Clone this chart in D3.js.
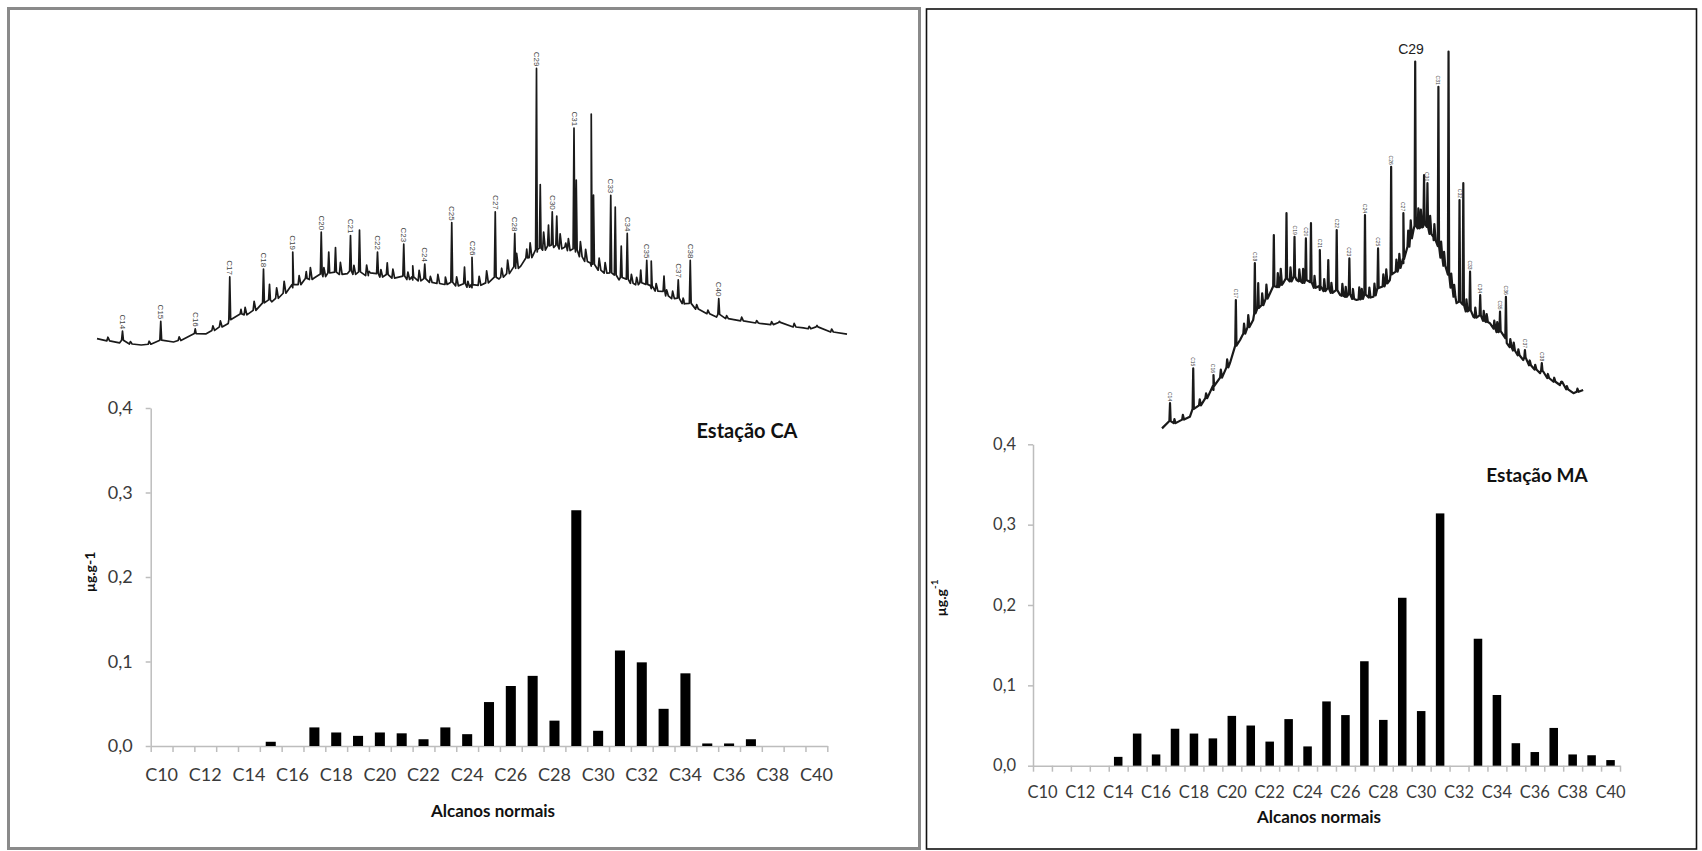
<!DOCTYPE html>
<html>
<head>
<meta charset="utf-8">
<script src="https://cdn.jsdelivr.net/npm/d3@7"></script>
<style>
  html, body { margin: 0; padding: 0; background: #fff; }
  svg { display: block; }
</style>
</head>
<body>
<svg id="fig" width="1702" height="851"></svg>
<script>
// ---- n-alkane concentrations (µg/g) ----
const categories = ["C10","C11","C12","C13","C14","C15","C16","C17","C18","C19","C20",
  "C21","C22","C23","C24","C25","C26","C27","C28","C29","C30",
  "C31","C32","C33","C34","C35","C36","C37","C38","C39","C40"];
const xTickLabels = ["C10","C12","C14","C16","C18","C20","C22","C24","C26","C28",
  "C30","C32","C34","C36","C38","C40"];
const yTicks = [0, 0.1, 0.2, 0.3, 0.4];

const valuesCA = [0, 0, 0, 0, 0, 0.005, 0, 0.022, 0.016, 0.012, 0.016,
  0.015, 0.008, 0.022, 0.014, 0.052, 0.071, 0.083, 0.030, 0.279, 0.018,
  0.113, 0.099, 0.044, 0.086, 0.003, 0.003, 0.008, 0, 0, 0];
const valuesMA = [0, 0, 0, 0, 0.011, 0.040, 0.014, 0.046, 0.040, 0.034, 0.062,
  0.050, 0.030, 0.058, 0.024, 0.080, 0.063, 0.130, 0.057, 0.209, 0.068,
  0.314, 0, 0.158, 0.088, 0.028, 0.017, 0.047, 0.014, 0.013, 0.007];

// ---- chromatograms: unresolved hump [retention, signal] ----
const humpCA = [[0,2.1],[3,0.7],[5.9,0],[10.2,1],[14.5,3.7],[17.5,7.2],[20.4,10.8],
  [23.3,14.4],[26.1,19.1],[29,22.4],[33.4,23.8],[37.7,22.7],[42.1,21.7],[46.4,20.2],
  [50,19.1],[53.6,22],[56.5,26.3],[58.7,31],[60.9,32.5],[63.8,31],[65.9,26.3],
  [69.6,21.7],[73.9,18.8],[78.3,13.7],[82.6,9.3],[88.4,7.2],[94.2,5.7],[100,3.6]];
// resolved peaks [retention, signal at apex, label]
const peaksCA = [[3.4,4.6,"C14"],[8.5,7.9,"C15"],[13.1,5.4,"C16"],[17.7,22.7,"C17"],
  [19.2,11.9,""],[22.2,25.3,"C18"],[23,20.2,""],[26.1,31,"C19"],[27.9,24.5,""],
  [29.9,37.6,"C20"],[30.9,31,""],[31.8,32.5,""],[33.8,36.5,"C21"],[35,38.3,""],
  [36.3,24.5,""],[37.4,31,"C22"],[38.7,27.4,""],[40.9,33.6,"C23"],[42.1,26.4,""],
  [43.7,27,"C24"],[47.3,40.8,"C25"],[49,26,""],[50,29.2,"C26"],[53.1,44.4,"C27"],
  [55.7,37.2,"C28"],[57.3,32,""],[58.6,92.2,"C29"],[59.1,53.5,""],[60.2,40,""],
  [60.7,44.4,"C30"],[61.3,43,""],[62.5,34,""],[63.6,72.3,"C31"],[63.9,55,""],
  [65.9,77,""],[66.2,50,""],[68.5,49.9,"C33"],[69.1,46,""],[69.9,33,""],
  [70.7,37.2,"C34"],[72.5,25,""],[73.3,28.2,"C35"],[73.9,28,""],[75.6,23,""],
  [77.5,21.7,"C37"],[79.1,28.2,"C38"],[82.9,15.5,"C40"],[91,7.9,""],[96,6.5,""]];
// minor unresolved components [retention, rise above the hump]
const ripplesCA = [[1.5,1.2],[4.5,0.8],[7,1],[11,1.2],[15.5,1.5],[16.5,2],[19.8,2.5],
  [21,3],[24,3.5],[25,4],[27,3],[28.5,4],[30.3,3],[32.5,4],[34.3,3],[36,3.5],
  [37.9,2.5],[39.5,3],[41.5,2.5],[43,3.5],[44.5,2],[45.5,3],[46.5,2.5],[48,3],
  [49.5,2],[51,3],[52,4],[54,3],[54.8,4.5],[56,5],[57.8,5],[59.6,6],[61.8,5],
  [62.9,4],[64.5,5],[65.2,4],[67,4],[67.8,3.5],[71.3,3],[72,2.5],[74.6,2.5],
  [76,2],[76.8,2.5],[78.2,1.8],[80,1.5],[81.5,1.2],[84,1],[86,1.2],[88,0.8],
  [90,1],[93,1.2],[95,0.8],[98,1]];

const humpMA = [[0,0.4],[6.6,3.3],[12.2,10],[16.1,16.7],[18.5,22.5],[21.6,27.5],
  [25.6,34.2],[28.7,36.7],[31.9,37.5],[37.4,35],[42.2,33.75],[46.1,32.5],[50.1,33.3],
  [54,37.5],[57.2,41.7],[59.6,50],[61.9,50.8],[64.3,48.3],[66.7,41.7],[69.8,31.7],
  [73.8,28.3],[77.7,26.7],[81.7,21.7],[85.6,17.5],[89.6,14.2],[94.3,11.25],
  [97.5,9.2],[99.8,10]];
const peaksMA = [[1.9,6.7,"C14"],[7.4,15.4,"C15"],[12.2,13.75,"C16"],[17.5,32.5,"C17"],
  [22,41.7,"C18"],[22.8,36.7,""],[26.5,48.75,""],[29.5,54.2,""],[31.4,48.3,"C19"],
  [34.1,47.9,"C20"],[35.3,51.7,""],[37.4,45,"C21"],[39.4,42.5,""],[41.4,50,"C22"],
  [44.4,42.9,"C23"],[48.1,53.75,"C24"],[51.2,45.4,"C25"],[54.3,65.8,"C26"],
  [57.2,54.2,"C27"],[60,92.1,""],[62.1,63.75,""],[62.9,61.7,"C30"],[65.5,85.8,"C31"],
  [67.9,94.6,""],[70.5,57.5,"C32"],[71.4,61.7,""],[73,39.6,"C33"],[75.4,33.75,"C34"],
  [80.1,29.6,"C35"],[81.5,33.3,"C36"],[86,20,"C37"],[90,16.7,"C38"],[94.7,12.1,""]];
const ripplesMA = [[3,1],[5,1.2],[9,1.5],[10.5,1.2],[14,2],[15.5,2],[19.5,2.5],[20.5,3],
  [23.8,3],[24.8,3.5],[27.5,3.5],[28.2,4],[30.5,3.5],[32.6,3],[33.5,3.5],[36.2,3],[38.5,3],
  [40.2,2.5],[42.8,3],[43.6,2.5],[45.3,2.5],[46.8,3],[47.4,2.5],[49.2,2.5],[50.4,3],[52.5,3],
  [53.2,3.5],[55.6,3],[56.3,3.5],[58.4,4],[59,4.5],[60.8,5],[61.4,4.5],[63.6,4.5],[64.6,4],
  [66.2,4],[66.9,3.5],[68.6,3.5],[69.3,3],[72.2,3],[74.3,2.5],[76.3,2.5],[77,2],[78.8,2],
  [79.5,2.5],[82.6,2],[83.4,2],[84.5,1.5],[87.2,1.2],[88.5,1.2],[91.5,1],[93,1],
  [96,0.8],[98.5,0.8]];

// ---- drawing ----
const svg = d3.select("#fig");
const AXIS = "#bdbdbd", TXT = "#3a3a3a";
const fmt = d => d3.format(".1f")(d).replace(".", ",");

// panel frames
svg.append("rect").attr("x", 8.5).attr("y", 8.5).attr("width", 911).attr("height", 840)
  .attr("fill", "none").attr("stroke", "#8a8a8a").attr("stroke-width", 3);
svg.append("rect").attr("x", 926.5).attr("y", 9).attr("width", 770).attr("height", 840)
  .attr("fill", "none").attr("stroke", "#111").attr("stroke-width", 1.6);

function barChart(o, values) {
  const g = svg.append("g");
  const x = d3.scaleBand().domain(categories).range([o.x0, o.x1]).padding(0);
  const y = d3.scaleLinear().domain([0, 0.4]).range([o.yBase, o.yTop]);
  const xEdge = d3.scaleLinear().domain([0, categories.length]).range([o.x0, o.x1]);

  // category boundary ticks along the base line
  const gx = g.append("g").attr("transform", `translate(0,${o.yBase})`)
    .call(d3.axisBottom(xEdge).tickValues(d3.range(categories.length + 1))
      .tickSize(6).tickSizeOuter(0).tickFormat(""));
  gx.select(".domain").attr("stroke", AXIS).attr("stroke-width", 1.5);
  gx.selectAll(".tick line").attr("stroke", AXIS).attr("stroke-width", 1.5);

  const gy = g.append("g").attr("transform", `translate(${o.x0},0)`)
    .call(d3.axisLeft(y).tickValues(yTicks).tickSize(5).tickSizeOuter(0)
      .tickPadding(o.yPad).tickFormat(fmt));
  gy.select(".domain").attr("stroke", AXIS).attr("stroke-width", 1.5);
  gy.selectAll(".tick line").attr("stroke", AXIS).attr("stroke-width", 1.5);
  gy.selectAll(".tick text").attr("fill", TXT).attr("font-family", "Lato")
    .attr("font-size", o.tickFont);

  g.selectAll("text.xlab").data(xTickLabels).join("text")
    .attr("x", d => x(d) + x.bandwidth() / 2).attr("y", o.xLabY)
    .attr("text-anchor", "middle").attr("dominant-baseline", "central")
    .attr("fill", TXT).attr("font-family", "Lato").attr("font-size", o.tickFont)
    .text(d => d);

  const rows = categories.map((c, i) => ({ c, v: values[i] })).filter(d => d.v > 0);
  g.selectAll("rect.bar").data(rows).join("rect")
    .attr("x", d => x(d.c) + x.bandwidth() * (1 - o.barFrac) / 2)
    .attr("width", x.bandwidth() * o.barFrac)
    .attr("y", d => y(d.v)).attr("height", d => y(0) - y(d.v))
    .attr("fill", "#000");

  g.append("text").attr("x", o.titleX).attr("y", o.titleY)
    .attr("text-anchor", "middle").attr("dominant-baseline", "central")
    .attr("font-family", "Lato").attr("font-weight", 700).attr("font-size", o.titleFont)
    .attr("fill", "#111").text(o.title);
  g.append("text").attr("x", o.xTitleX).attr("y", o.xTitleY)
    .attr("text-anchor", "middle").attr("dominant-baseline", "central")
    .attr("font-family", "Lato").attr("font-weight", 700).attr("font-size", 17)
    .attr("fill", "#111").text("Alcanos normais");

  const yt = g.append("text")
    .attr("transform", `translate(${o.yTitleX},${o.yTitleY}) rotate(-90)`)
    .attr("text-anchor", "middle").attr("dominant-baseline", "central")
    .attr("font-family", "Lato").attr("font-weight", 700).attr("font-size", 14)
    .attr("fill", "#111");
  if (o.superscript) {
    yt.append("tspan").text("µg.g");
    yt.append("tspan").attr("dy", -6).attr("font-size", 10).text("-1");
  } else {
    yt.text("µg.g-1");
  }
}

function chromatogram(o, hump, peaks, ripples) {
  const g = svg.append("g");
  const x = d3.scaleLinear().domain([0, 100]).range([o.x0, o.x1]);
  const y = d3.scaleLinear().domain([0, 100]).range([o.yBase, o.yTop]);
  const base = d3.scaleLinear().domain(hump.map(d => d[0])).range(hump.map(d => d[1]));
  const w = o.halfWidth;
  const pts = hump.map(d => [d[0], d[1]]);
  ripples.forEach(r => {
    const b = base(r[0]);
    pts.push([r[0] - 1.5 * w, b], [r[0] - 0.4 * w, b + r[1]], [r[0] + 0.4 * w, b + r[1] * 0.6], [r[0] + 1.5 * w, b]);
  });
  peaks.forEach(p => {
    const b = base(p[0]);
    pts.push([p[0] - w, b + 1], [p[0], p[1]], [p[0] + w, b + 1]);
  });
  pts.sort((a, b) => a[0] - b[0]);
  g.append("path")
    .attr("d", d3.line().x(d => x(d[0])).y(d => y(d[1]))(pts))
    .attr("fill", "none").attr("stroke", "#1a1a1a")
    .attr("stroke-width", o.stroke).attr("stroke-linejoin", "round");

  g.selectAll("text.pk").data(peaks.filter(p => p[2])).join("text")
    .attr("transform", p => `translate(${x(p[0])},${y(p[1]) - 2}) rotate(90)`)
    .attr("text-anchor", "end").attr("dominant-baseline", "central")
    .attr("font-family", "Liberation Sans").attr("font-size", o.labelFont)
    .attr("fill", "#444").text(p => p[2]);
  return { x, y };
}

chromatogram({ x0: 97, x1: 847, yBase: 345, yTop: 45, halfWidth: 0.12, stroke: 1.7, labelFont: 8 },
  humpCA, peaksCA, ripplesCA);
chromatogram({ x0: 1162, x1: 1584, yBase: 430, yTop: 30, halfWidth: 0.15, stroke: 2.2, labelFont: 5 },
  humpMA, peaksMA, ripplesMA);
svg.append("text").attr("x", 1411).attr("y", 49).attr("text-anchor", "middle")
  .attr("dominant-baseline", "central").attr("font-family", "Liberation Sans")
  .attr("font-size", 14).attr("fill", "#222").text("C29");

barChart({ x0: 150.7, x1: 827.3, yBase: 746, yTop: 408, yPad: 13, tickFont: 18, barFrac: 0.46,
  xLabY: 774, title: "Estação CA", titleX: 747, titleY: 430, titleFont: 20,
  xTitleX: 493, xTitleY: 810, yTitleX: 89, yTitleY: 572, superscript: false }, valuesCA);
barChart({ x0: 1033, x1: 1620, yBase: 765.7, yTop: 444.3, yPad: 12, tickFont: 16.5, barFrac: 0.45,
  xLabY: 792, title: "Estação MA", titleX: 1537, titleY: 474, titleFont: 19,
  xTitleX: 1319, xTitleY: 816, yTitleX: 940, yTitleY: 598, superscript: true }, valuesMA);
</script>
</body>
</html>
